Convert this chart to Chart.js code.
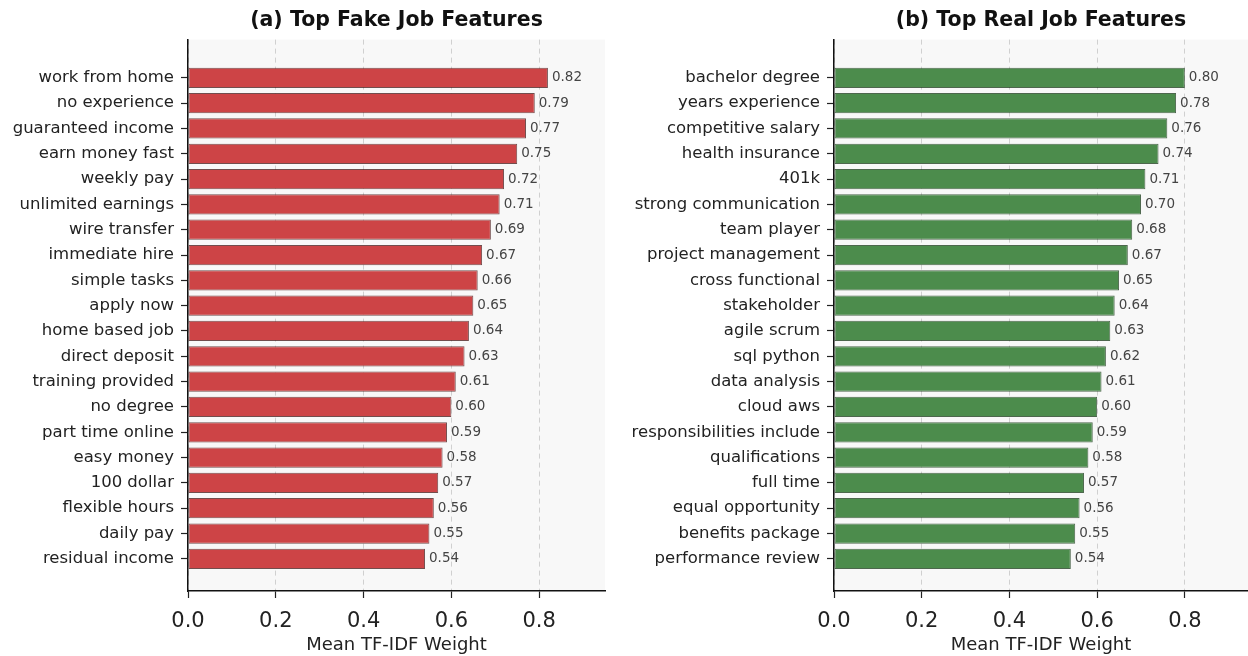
<!DOCTYPE html>
<html>
<head>
<meta charset="utf-8">
<title>Top TF-IDF Features</title>
<script src="https://cdn.jsdelivr.net/npm/chart.js@4.4.1/dist/chart.umd.min.js"></script>
<style>
  body { margin: 0; background: #fff; }
  .panel { position: absolute; top: 0; width: 624px; height: 656px; }
  #panelFake { left: 0; }
  #panelReal { left: 624px; }
</style>
</head>
<body>
<div class="panel" id="panelFake"><canvas id="fakeChart"></canvas></div>
<div class="panel" id="panelReal"><canvas id="realChart"></canvas></div>
<script>
'use strict';

// data
const fakeTerms = ['work from home', 'no experience', 'guaranteed income', 'earn money fast', 'weekly pay',
    'unlimited earnings', 'wire transfer', 'immediate hire', 'simple tasks', 'apply now',
    'home based job', 'direct deposit', 'training provided', 'no degree', 'part time online',
    'easy money', '100 dollar', 'flexible hours', 'daily pay', 'residual income'];
const fakeWeights = [0.82, 0.79, 0.77, 0.75, 0.72, 0.71, 0.69, 0.67, 0.66, 0.65,
    0.64, 0.63, 0.61, 0.60, 0.59, 0.58, 0.57, 0.56, 0.55, 0.54];

const realTerms = ['bachelor degree', 'years experience', 'competitive salary', 'health insurance', '401k',
    'strong communication', 'team player', 'project management', 'cross functional', 'stakeholder',
    'agile scrum', 'sql python', 'data analysis', 'cloud aws', 'responsibilities include',
    'qualifications', 'full time', 'equal opportunity', 'benefits package', 'performance review'];
const realWeights = [0.80, 0.78, 0.76, 0.74, 0.71, 0.70, 0.68, 0.67, 0.65, 0.64,
    0.63, 0.62, 0.61, 0.60, 0.59, 0.58, 0.57, 0.56, 0.55, 0.54];

const xTicks = [0, 0.2, 0.4, 0.6, 0.8];

Chart.defaults.font.family = "'DejaVu Sans', sans-serif";
Chart.defaults.color = '#222';

// light grey plot background
const plotBg = {
    id: 'plotBg',
    beforeDraw(chart) {
        const { ctx, chartArea: a } = chart;
        ctx.save();
        ctx.fillStyle = '#f8f8f8';
        ctx.fillRect(a.left, a.top, a.right - a.left, a.bottom - a.top);
        ctx.restore();
    }
};

// weight printed at the end of each bar
const barValues = {
    id: 'barValues',
    afterDatasetsDraw(chart) {
        const ctx = chart.ctx;
        const meta = chart.getDatasetMeta(0);
        const data = chart.data.datasets[0].data;
        ctx.save();
        ctx.font = '13.5px "DejaVu Sans"';
        ctx.fillStyle = '#444';
        ctx.textAlign = 'left';
        ctx.textBaseline = 'middle';
        meta.data.forEach((bar, i) => {
            ctx.fillText(data[i].x.toFixed(2), bar.x + 4, bar.y);
        });
        ctx.restore();
    }
};

const graficaBarras = (canvasId, title, terms, weights, color, edge, axisWidth, xMax, padRight) => {
    const ctx = document.getElementById(canvasId);
    return new Chart(ctx.getContext('2d'), {
        type: 'bar',
        data: {
            datasets: [{
                data: weights.map((w, i) => ({ x: w, y: i })),
                backgroundColor: color,
                borderColor: edge,
                borderWidth: 1,
                borderSkipped: false,
                categoryPercentage: 1,
                barPercentage: 0.8
            }]
        },
        options: {
            indexAxis: 'y',
            responsive: true,
            maintainAspectRatio: false,
            animation: false,
            layout: { padding: { left: 0, right: padRight, top: 0, bottom: 0 } },
            plugins: {
                legend: { display: false },
                tooltip: { enabled: false },
                title: {
                    display: true,
                    text: title,
                    fullSize: false,
                    color: '#111',
                    font: { size: 20.5, weight: 'bold' },
                    padding: { top: 8, bottom: 7 }
                }
            },
            scales: {
                x: {
                    type: 'linear',
                    min: 0,
                    max: xMax,
                    afterBuildTicks: scale => { scale.ticks = xTicks.map(v => ({ value: v })); },
                    afterFit: scale => { scale.height = 65; },
                    ticks: {
                        callback: v => v.toFixed(1),
                        font: { size: 21 },
                        color: '#222',
                        padding: 11,
                        maxRotation: 0
                    },
                    grid: {
                        color: '#d0d0d0',
                        lineWidth: 1,
                        tickColor: '#222',
                        tickLength: 7,
                        tickWidth: 1.2
                    },
                    border: { color: '#111', width: 1.5, dash: [5, 4] },
                    title: {
                        display: true,
                        text: 'Mean TF-IDF Weight',
                        color: '#222',
                        font: { size: 18 },
                        padding: { top: 0, bottom: 0 }
                    }
                },
                y: {
                    type: 'linear',
                    reverse: true,
                    offset: false,
                    min: -1.51,
                    max: 20.27,
                    afterBuildTicks: scale => { scale.ticks = terms.map((t, i) => ({ value: i })); },
                    afterFit: scale => { scale.width = axisWidth; },
                    ticks: {
                        autoSkip: false,
                        callback: v => terms[v],
                        font: { size: 16.5 },
                        color: '#222',
                        padding: 7
                    },
                    grid: {
                        offset: false,
                        drawOnChartArea: false,
                        tickColor: '#222',
                        tickLength: 7,
                        tickWidth: 1.2
                    },
                    border: { color: '#111', width: 1.5 }
                }
            }
        },
        plugins: [plotBg, barValues]
    });
};

graficaBarras('fakeChart', '(a) Top Fake Job Features', fakeTerms, fakeWeights,
    '#cd4446', 'rgba(70,20,20,0.75)', 188, 0.95, 19);
graficaBarras('realChart', '(b) Top Real Job Features', realTerms, realWeights,
    '#4c8c4c', 'rgba(20,55,20,0.75)', 210, 0.944, 0);
</script>
</body>
</html>
